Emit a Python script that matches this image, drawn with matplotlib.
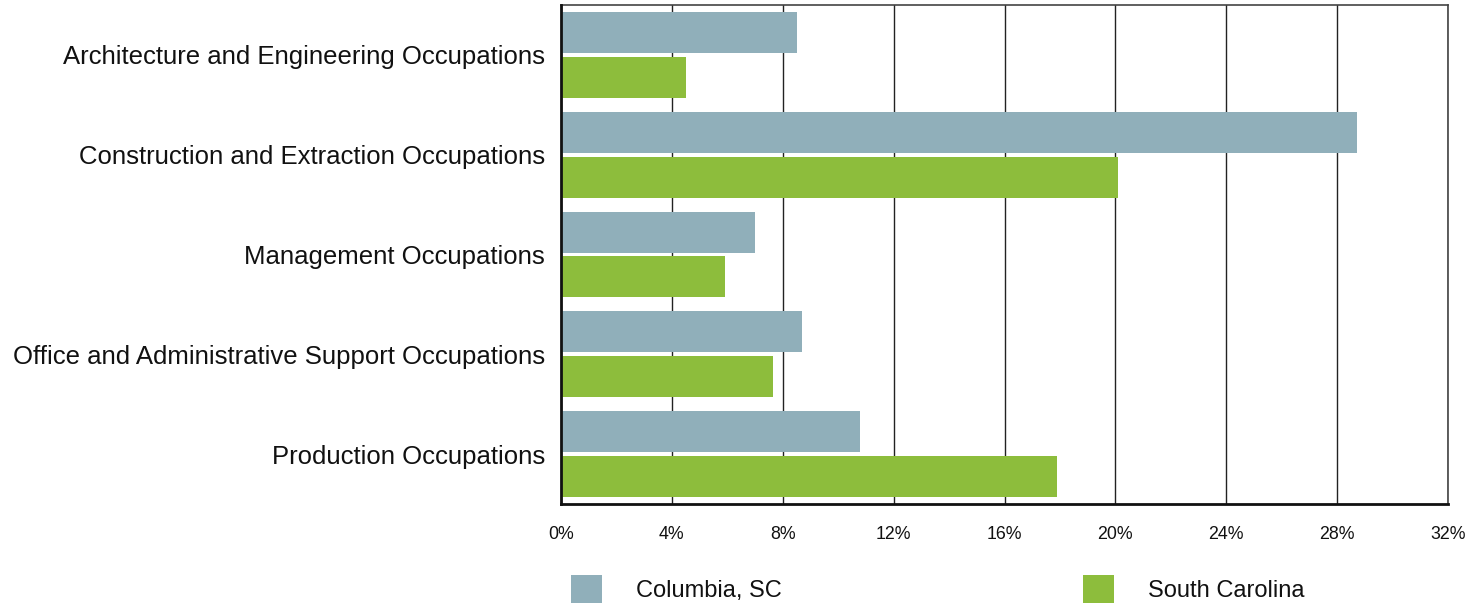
import matplotlib
matplotlib.use("Agg")
import matplotlib.pyplot as plt
import numpy as np
from matplotlib.ticker import FuncFormatter

categories = [
    "Architecture and Engineering Occupations",
    "Construction and Extraction Occupations",
    "Management Occupations",
    "Office and Administrative Support Occupations",
    "Production Occupations",
]
columbia = [8.5, 28.7, 7.0, 8.7, 10.8]
south_carolina = [4.5, 20.1, 5.9, 7.65, 17.9]
series_names = ["Columbia, SC", "South Carolina"]
colors = ["#90AFBA", "#8DBD3C"]
xticks = [0, 4, 8, 12, 16, 20, 24, 28, 32]

plt.rcParams['font.family'] = ['Liberation Sans', 'DejaVu Sans']

W, H = 1481, 604
fig = plt.figure(figsize=(W / 100, H / 100), dpi=100)
ax = fig.add_axes([561 / W, 1 - 504 / H, (1448 - 561) / W, (504 - 5) / H])

y = np.arange(len(categories))
h = 0.41
off = 0.225
b1 = ax.barh(y - off, columbia, height=h, color=colors[0], label=series_names[0], zorder=3)
b2 = ax.barh(y + off, south_carolina, height=h, color=colors[1], label=series_names[1], zorder=3)

ax.set_ylim(len(categories) - 0.5, -0.5)
ax.set_xlim(0, 32)
ax.set_xticks(xticks)
ax.xaxis.set_major_formatter(FuncFormatter(lambda v, p: f"{v:.0f}%"))
ax.set_yticks(y)
ax.set_yticklabels(categories, fontsize=18.5, color="#111111")
ax.tick_params(axis='y', length=0, pad=11.5)
ax.tick_params(axis='x', length=0, pad=16, labelsize=12.8, labelcolor="#111111")
ax.grid(axis='x', color="#222222", linewidth=1, zorder=1)
ax.set_axisbelow(True)
for s in ['left', 'bottom']:
    ax.spines[s].set_linewidth(2)
    ax.spines[s].set_color("#111111")
    ax.spines[s].set_zorder(4)
for s in ['top', 'right']:
    ax.spines[s].set_linewidth(1.2)
    ax.spines[s].set_color("#444444")

for handle, name, x0 in [(b1, series_names[0], 571), (b2, series_names[1], 1083)]:
    fig.legend([handle], [name], loc='center left', bbox_to_anchor=(x0 / W, 1 - 589 / H),
               frameon=False, fontsize=17, handlelength=1.3, handleheight=1.4,
               handletextpad=1.45, borderaxespad=0, borderpad=0,
               labelcolor="#111111")

fig.savefig("out.png", dpi=100)
